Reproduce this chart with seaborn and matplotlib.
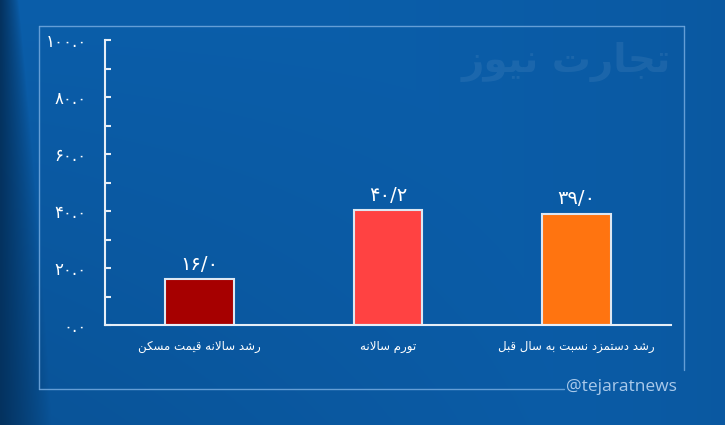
import matplotlib
matplotlib.use("Agg")
import matplotlib.pyplot as plt
from matplotlib.lines import Line2D
from matplotlib.ticker import MultipleLocator, FuncFormatter
import seaborn as sns
import numpy as np
import pandas as pd

# chart data
categories = ['رشد سالانه قیمت مسکن', 'تورم سالانه', 'رشد دستمزد نسبت به سال قبل']
values = [16.0, 40.2, 39.0]
bar_colors = ['#a60000', '#ff4242', '#ff7410']
y_ticks = [0, 20, 40, 60, 80, 100]
watermark = 'تجارت نیوز'
handle = '@tejaratnews'

# arabic presentation forms: isolated, final, initial, medial (None -> no forward join)
FORMS = {
    'ا': (0xFE8D, 0xFE8E, None, None),
    'ب': (0xFE8F, 0xFE90, 0xFE91, 0xFE92),
    'ت': (0xFE95, 0xFE96, 0xFE97, 0xFE98),
    'ج': (0xFE9D, 0xFE9E, 0xFE9F, 0xFEA0),
    'د': (0xFEA9, 0xFEAA, None, None),
    'ر': (0xFEAD, 0xFEAE, None, None),
    'ز': (0xFEAF, 0xFEB0, None, None),
    'س': (0xFEB1, 0xFEB2, 0xFEB3, 0xFEB4),
    'ش': (0xFEB5, 0xFEB6, 0xFEB7, 0xFEB8),
    'ق': (0xFED5, 0xFED6, 0xFED7, 0xFED8),
    'ل': (0xFEDD, 0xFEDE, 0xFEDF, 0xFEE0),
    'م': (0xFEE1, 0xFEE2, 0xFEE3, 0xFEE4),
    'ن': (0xFEE5, 0xFEE6, 0xFEE7, 0xFEE8),
    'ه': (0xFEE9, 0xFEEA, 0xFEEB, 0xFEEC),
    'و': (0xFEED, 0xFEEE, None, None),
    'ک': (0xFB8E, 0xFB8F, 0xFB90, 0xFB91),
    'ی': (0xFEEF, 0xFEF0, 0xFEF3, 0xFEF4),
}


def joins_next(c):
    return c in FORMS and FORMS[c][2] is not None


def shape(text):
    """very small persian shaper + rtl reversal (matplotlib has no bidi)"""
    out = []
    i = 0
    n = len(text)
    while i < n:
        c = text[i]
        if c not in FORMS:
            out.append(c)
            i += 1
            continue
        pj = i > 0 and joins_next(text[i - 1])
        if c == 'ل' and i + 1 < n and text[i + 1] == 'ا':
            out.append(chr(0xFEFC if pj else 0xFEFB))
            i += 2
            continue
        nj = joins_next(c) and i + 1 < n and text[i + 1] in FORMS
        iso, fin, ini, med = FORMS[c]
        code = med if (pj and nj) else fin if pj else ini if nj else iso
        out.append(chr(code))
        i += 1
    return ''.join(reversed(out))


FA_DIGITS = str.maketrans('0123456789', '۰۱۲۳۴۵۶۷۸۹')


def fa_num(v, sep='.'):
    return f"{v:.1f}".translate(FA_DIGITS).replace('.', sep)


sns.set_style('ticks')
plt.rcParams['font.family'] = ['DejaVu Sans']

W, H = 725, 425
fig = plt.figure(figsize=(W / 100, H / 100), dpi=100)

# blue gradient background
bg = fig.add_axes([0, 0, 1, 1], zorder=0)
yy, xx = np.mgrid[0:1:H * 1j, 0:1:W * 1j]
base = np.array([11, 94, 170]) / 255
dark = np.array([4, 50, 95]) / 255
edge_w = 0.025 + 0.06 * yy
t = np.clip(1 - xx / edge_w, 0, 1) ** 0.8
t = np.maximum(t, 0.25 * yy * (1 - xx))
t = np.maximum(t, 0.12 * xx ** 3)
img = base[None, None, :] * (1 - t[..., None]) + dark[None, None, :] * t[..., None]
bg.imshow(img, aspect='auto', extent=[0, 1, 1, 0])
bg.set_axis_off()

# frame around the chart
frame_kw = dict(color='#6fa6dc', lw=1.0, alpha=0.9)
def fx(px):
    return px / W
def fy(py):
    return 1 - py / H
fig.add_artist(Line2D([fx(39), fx(684)], [fy(26), fy(26)], **frame_kw))
fig.add_artist(Line2D([fx(39), fx(39)], [fy(26), fy(389)], **frame_kw))
fig.add_artist(Line2D([fx(39), fx(564)], [fy(389), fy(389)], **frame_kw))
fig.add_artist(Line2D([fx(684), fx(684)], [fy(26), fy(370)], **frame_kw))

fig.text(fx(566), fy(62), shape(watermark), fontsize=28, fontweight='bold',
         color='white', alpha=0.07, ha='center', va='center')
fig.text(fx(621), fy(387), handle, fontsize=12.5, family='Open Sans',
         color='#a9c9ea', ha='center', va='center')

ax = fig.add_axes([fx(105), fy(325), (671 - 105) / W, (325 - 40) / H], zorder=2)
ax.set_facecolor('none')

df = pd.DataFrame({'cat': [shape(c) for c in categories], 'val': values})
sns.barplot(data=df, x='cat', y='val', hue='cat', palette=bar_colors, legend=False,
            width=0.365, saturation=1, edgecolor='#dde7f2', linewidth=1.5, ax=ax)

for cont, v in zip(ax.containers, values):
    ax.bar_label(cont, labels=[fa_num(v, '/')], padding=4, color='white', fontsize=14)

ax.set_xlim(-0.5, 2.5)
ax.set_ylim(0, 100)
ax.set_yticks(y_ticks)
ax.yaxis.set_minor_locator(MultipleLocator(10))
ax.yaxis.set_major_formatter(FuncFormatter(lambda v, p: fa_num(v)))
ax.set_xlabel('')
ax.set_ylabel('')
for s in ['top', 'right']:
    ax.spines[s].set_visible(False)
for s in ['left', 'bottom']:
    ax.spines[s].set_color('#e6eef7')
    ax.spines[s].set_linewidth(1.5)
ax.tick_params(axis='y', which='both', direction='in', length=4, width=1.5,
               color='#e6eef7', labelcolor='white', labelsize=12, pad=13)
ax.tick_params(axis='x', length=0, pad=11, labelcolor='white', labelsize=8.5)

fig.savefig('out.png', dpi=100)
